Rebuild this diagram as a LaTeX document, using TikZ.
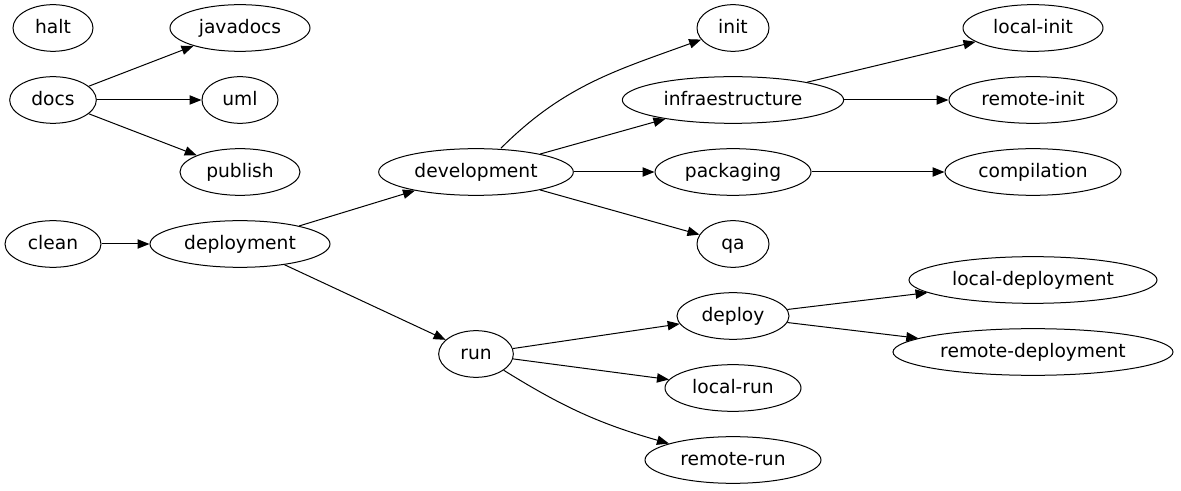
\documentclass[tikz,border=0pt]{standalone}
\usepackage{fontspec}
\setmainfont{DejaVu Sans}
\usepackage{tikz}
\usetikzlibrary{shapes.geometric, arrows.meta}

\begin{document}
\begin{tikzpicture}[
  x=0.75pt, y=-0.75pt,
  every node/.style={font=\fontsize{14}{16}\selectfont},
  target/.style={draw, ellipse, minimum height=35pt, inner sep=0pt,
    text height=1.6ex, text depth=0.2ex, line width=0.75pt},
  dep/.style={-{Triangle[length=9pt, width=7pt]}, line width=0.75pt},
]
  \useasboundingbox (0,0) rectangle (1181,491);

  % Left column
  \node[target, minimum width=60pt] (halt) at (53,28) {halt};
  \node[target, minimum width=65pt] (docs) at (53,100) {docs};
  \node[target, minimum width=72pt] (clean) at (53,244) {clean};

  % Second column
  \node[target, minimum width=105pt] (javadocs) at (240,28) {javadocs};
  \node[target, minimum width=57pt] (uml) at (240,100) {uml};
  \node[target, minimum width=90pt] (publish) at (240,172) {publish};
  \node[target, minimum width=135pt] (deployment) at (240,244) {deployment};

  % Third column
  \node[target, minimum width=146pt] (development) at (476,172) {development};
  \node[target, minimum width=56pt] (run) at (476,354) {run};

  % Fourth column
  \node[target, minimum width=54pt] (init) at (733,28) {init};
  \node[target, minimum width=166pt] (infra) at (733,100) {infraestructure};
  \node[target, minimum width=117pt] (packaging) at (733,172) {packaging};
  \node[target, minimum width=54pt] (qa) at (733,244) {qa};
  \node[target, minimum width=84pt] (deploy) at (733,316) {deploy};
  \node[target, minimum width=102pt] (localrun) at (733,388) {local-run};
  \node[target, minimum width=132pt] (remoterun) at (733,460) {remote-run};

  % Right column
  \node[target, minimum width=105pt] (localinit) at (1033,28) {local-init};
  \node[target, minimum width=126pt] (remoteinit) at (1033,100) {remote-init};
  \node[target, minimum width=132pt] (compilation) at (1033,172) {compilation};
  \node[target, minimum width=186pt] (localdep) at (1033,280) {local-deployment};
  \node[target, minimum width=210pt] (remotedep) at (1033,352) {remote-deployment};

  % Dependencies
  \draw[dep] (docs) -- (javadocs);
  \draw[dep] (docs) -- (uml);
  \draw[dep] (docs) -- (publish);
  \draw[dep] (clean) -- (deployment);
  \draw[dep] (deployment) -- (development);
  \draw[dep] (deployment) -- (run);
  \draw[dep] (development.north) ++(25,0) to[out=45,in=200] (init);
  \draw[dep] (development) -- (infra);
  \draw[dep] (development) -- (packaging);
  \draw[dep] (development) -- (qa);
  \draw[dep] (infra) -- (localinit);
  \draw[dep] (infra) -- (remoteinit);
  \draw[dep] (packaging) -- (compilation);
  \draw[dep] (run) -- (deploy);
  \draw[dep] (run) -- (localrun);
  \draw[dep] (run) to[bend right=8] (remoterun);
  \draw[dep] (deploy) -- (localdep);
  \draw[dep] (deploy) -- (remotedep);
\end{tikzpicture}
\end{document}
